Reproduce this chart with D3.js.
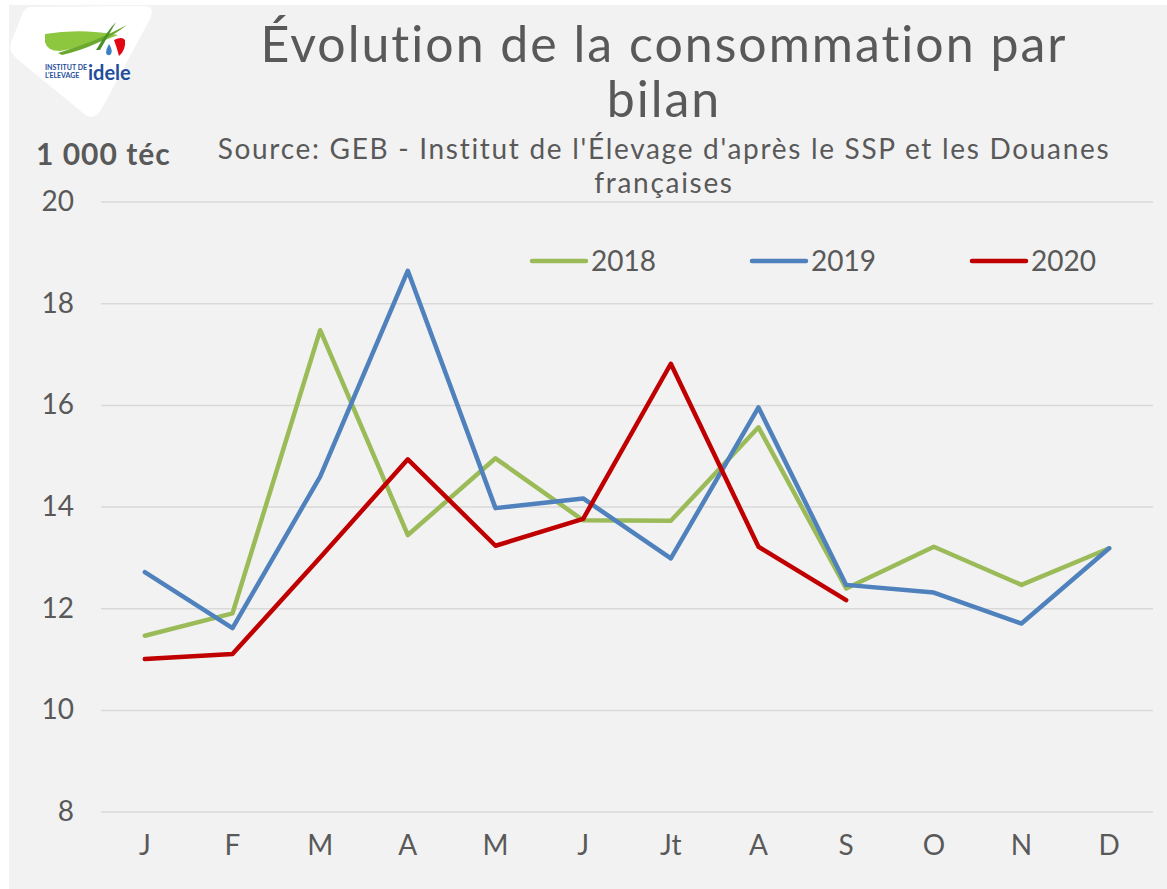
<!DOCTYPE html>
<html>
<head>
<meta charset="utf-8">
<script src="https://cdn.jsdelivr.net/npm/d3@7"></script>
<style>
  body { margin: 0; background: #ffffff; }
  text { font-family: Lato, 'Open Sans', sans-serif; fill: #595959; font-variant-ligatures: none; }
</style>
</head>
<body>
<svg width="1167" height="889"></svg>
<script>
const months = ['J', 'F', 'M', 'A', 'M', 'J', 'Jt', 'A', 'S', 'O', 'N', 'D'];
const yTicks = [8, 10, 12, 14, 16, 18, 20];

const values2018 = [11.46, 11.9, 17.47, 13.44, 14.95, 13.73, 13.72, 15.56, 12.39, 13.21, 12.46, 13.18];
const values2019 = [12.71, 11.61, 14.59, 18.64, 13.97, 14.16, 12.98, 15.95, 12.46, 12.31, 11.7, 13.18];
const values2020 = [11.0, 11.1, 13.0, 14.93, 13.23, 13.76, 16.81, 13.21, 12.16];

const seriesNames = ['2018', '2019', '2020'];
const seriesColors = ['#9bbb59', '#4f81bd', '#c00000'];

const svg = d3.select('svg');
const width = +svg.attr('width');
const height = +svg.attr('height');

const render = () => {
    const margin = { top: 201.6, bottom: 77.4, right: 14, left: 101 };
    const innerWidth = width - margin.left - margin.right;
    const innerHeight = height - margin.top - margin.bottom;

    // chart area background
    svg.append('rect')
        .attr('x', 9).attr('y', 5)
        .attr('width', width - 9).attr('height', height - 5)
        .attr('fill', '#f2f2f2');

    // logo (simplified)
    const logo = svg.append('g');
    logo.append('path')
        .attr('d', 'M30,7 L143,6 Q156,6 150,19 L101,110 Q93,122 83,113 L16,58 Q7,50 12,40 L22,15 Q25,7 30,7 Z')
        .attr('fill', '#ffffff');
    logo.append('path')
        .attr('d', 'M45,34 Q80,28 118,35 Q95,45 60,51 Q47,51 45,42 Z')
        .attr('fill', '#8dc63f');
    logo.append('path')
        .attr('d', 'M58,53 Q95,42 127,25 Q100,46 62,55 Z')
        .attr('fill', '#6aa82f');
    logo.append('path')
        .attr('d', 'M96,50 Q108,30 116,22 Q108,36 100,50 Z')
        .attr('fill', '#4b8f29');
    logo.append('path')
        .attr('d', 'M114,40 Q122,36 125,40 Q126,50 119,56 Q117,48 114,40 Z')
        .attr('fill', '#e30613');
    logo.append('path')
        .attr('d', 'M109,44 Q113,50 111,54 Q108,57 106,53 Q106,49 109,44 Z')
        .attr('fill', '#3b7fc4');
    logo.append('text')
        .attr('x', 45).attr('y', 70)
        .style('font-size', '7px').style('font-weight', 'bold')
        .style('fill', '#1f4e9c')
        .text('INSTITUT DE');
    logo.append('text')
        .attr('x', 45).attr('y', 78)
        .style('font-size', '7px').style('font-weight', 'bold')
        .style('fill', '#1f4e9c')
        .text("L'ELEVAGE");
    logo.append('text')
        .attr('x', 88).attr('y', 80)
        .style('font-size', '20px').style('font-weight', 'bold')
        .style('fill', '#1f4e9c')
        .text('idele');

    // titles
    svg.append('text')
        .attr('x', 664).attr('y', 62)
        .style('text-anchor', 'middle')
        .style('font-size', '50px')
        .style('letter-spacing', '2px')
        .text('Évolution de la consommation par');
    svg.append('text')
        .attr('x', 664).attr('y', 117)
        .style('text-anchor', 'middle')
        .style('font-size', '50px')
        .style('letter-spacing', '2px')
        .text('bilan');
    svg.append('text')
        .attr('x', 664).attr('y', 159)
        .style('text-anchor', 'middle')
        .style('font-size', '28px')
        .style('letter-spacing', '1.7px')
        .text("Source: GEB - Institut de l'Élevage d'après le SSP et les Douanes");
    svg.append('text')
        .attr('x', 664).attr('y', 193)
        .style('text-anchor', 'middle')
        .style('font-size', '28px')
        .style('letter-spacing', '1.7px')
        .text('françaises');
    svg.append('text')
        .attr('x', 36).attr('y', 165)
        .style('font-size', '30px')
        .style('font-weight', 'bold')
        .style('letter-spacing', '1px')
        .text('1 000 téc');

    const xScale = d3
        .scaleBand()
        .domain(d3.range(months.length))
        .range([0, innerWidth]);

    const yScale = d3
        .scaleLinear()
        .domain([8, 20])
        .range([innerHeight, 0]);

    const g = svg
        .append('g')
        .attr('transform', `translate(${margin.left}, ${margin.top})`);

    const yAxis = d3.axisLeft(yScale)
        .tickValues(yTicks)
        .tickSize(-innerWidth)
        .tickPadding(27);

    const yAxisG = g.append('g').call(yAxis);
    yAxisG.select('.domain').remove();
    yAxisG.selectAll('.tick line')
        .attr('stroke', '#d9d9d9')
        .attr('stroke-width', 1.5);
    yAxisG.selectAll('.tick text')
        .style('font-size', '28px')
        .style('font-family', 'Lato, sans-serif')
        .attr('fill', '#595959');

    const xAxis = d3.axisBottom(xScale)
        .tickFormat((i) => months[i])
        .tickSize(0)
        .tickPadding(24);

    const xAxisG = g.append('g')
        .call(xAxis)
        .attr('transform', `translate(0, ${innerHeight})`);
    xAxisG.select('.domain').remove();
    xAxisG.selectAll('.tick text')
        .style('font-size', '28px')
        .style('font-family', 'Lato, sans-serif')
        .attr('fill', '#595959');

    const line = d3.line()
        .x((d, i) => xScale(i) + xScale.bandwidth() / 2)
        .y((d) => yScale(d));

    const series = [values2018, values2019, values2020];
    series.forEach((values, k) => {
        g.append('path')
            .datum(values)
            .attr('fill', 'none')
            .attr('stroke', seriesColors[k])
            .attr('stroke-width', 4.5)
            .attr('stroke-linejoin', 'round')
            .attr('stroke-linecap', 'round')
            .attr('d', line);
    });

    // legend
    const legendX = [532, 752, 972];
    const legend = svg.append('g');
    seriesNames.forEach((name, k) => {
        legend.append('line')
            .attr('x1', legendX[k]).attr('x2', legendX[k] + 54)
            .attr('y1', 261).attr('y2', 261)
            .attr('stroke', seriesColors[k])
            .attr('stroke-width', 4.5)
            .attr('stroke-linecap', 'round');
        legend.append('text')
            .attr('x', legendX[k] + 59).attr('y', 271)
            .style('font-size', '28px')
            .text(name);
    });
};

render();
</script>
</body>
</html>
